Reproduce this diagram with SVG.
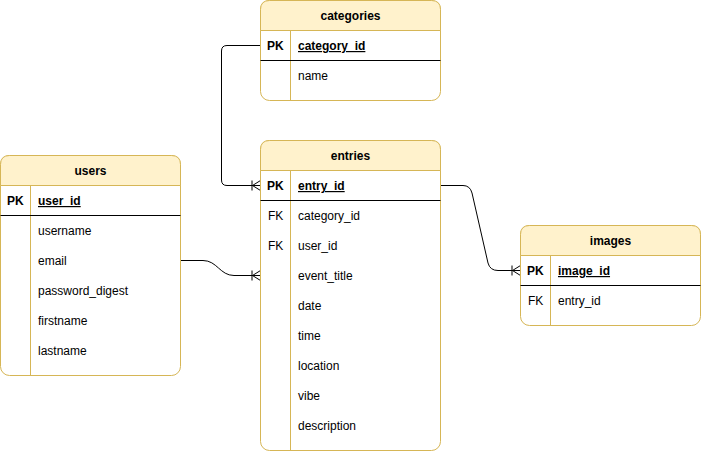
<svg xmlns="http://www.w3.org/2000/svg" width="702" height="452" viewBox="0 0 702 452">
<style>
.box{fill:#ffffff;stroke:#d6b656;stroke-width:1}
.hdr{fill:#fff2cc;stroke:#d6b656;stroke-width:1}
.div{stroke:#d6b656;stroke-width:1;fill:none}
.sep{stroke:#000000;stroke-width:1;fill:none}
text{font-family:"Liberation Sans",Arial,Helvetica,sans-serif;font-size:12px;fill:#000000}
.t{font-weight:bold;text-anchor:middle}
.pk{font-weight:bold}
.key{font-weight:bold;text-decoration:underline}
.conn{fill:none;stroke:#000000;stroke-width:1}
</style>
<defs>
<marker id="many" markerUnits="userSpaceOnUse" markerWidth="12" markerHeight="14" refX="10" refY="7" orient="auto" overflow="visible">
<path d="M2,7 L10,2 M2,7 L10,12 M1.5,2 L1.5,12 M0,7 L10,7" fill="none" stroke="#000" stroke-width="1"/>
</marker>
</defs>
<g id="connectors">
<path class="conn" d="M260.5,45.5 H227 Q221.5,45.5 221.5,51 V180 Q221.5,185.5 227,185.5 H260.5" marker-end="url(#many)"/>
<path class="conn" d="M180.5,260.5 H203 C217,260.5 220,275.5 234,275.5 H260.5" marker-end="url(#many)"/>
<path class="conn" d="M440.5,185.5 H463 Q470,185.5 472,193 L488,263 Q490,270.5 498,270.5 H520.5" marker-end="url(#many)"/>
</g>
<g id="categories">
<rect class="box" x="260.5" y="0.5" width="180" height="100" rx="9"/>
<path class="hdr" d="M260.5,30.5 V9.5 Q260.5,0.5 269.5,0.5 H431.5 Q440.5,0.5 440.5,9.5 V30.5 Z"/>
<line class="div" x1="290.5" y1="30.5" x2="290.5" y2="100.5"/>
<line class="sep" x1="260.5" y1="60.5" x2="440.5" y2="60.5"/>
<text class="t" x="350.5" y="20">categories</text>
<text class="pk" x="267" y="50">PK</text>
<text class="key" x="298" y="50">category_id</text>
<text x="298" y="80">name</text>
</g>
<g id="entries">
<rect class="box" x="260.5" y="140.5" width="180" height="310" rx="9"/>
<path class="hdr" d="M260.5,170.5 V149.5 Q260.5,140.5 269.5,140.5 H431.5 Q440.5,140.5 440.5,149.5 V170.5 Z"/>
<line class="div" x1="290.5" y1="170.5" x2="290.5" y2="450.5"/>
<line class="sep" x1="260.5" y1="200.5" x2="440.5" y2="200.5"/>
<text class="t" x="350.5" y="160">entries</text>
<text class="pk" x="267" y="190">PK</text>
<text class="key" x="298" y="190">entry_id</text>
<text x="268" y="220">FK</text>
<text x="298" y="220">category_id</text>
<text x="268" y="250">FK</text>
<text x="298" y="250">user_id</text>
<text x="298" y="280">event_title</text>
<text x="298" y="310">date</text>
<text x="298" y="340">time</text>
<text x="298" y="370">location</text>
<text x="298" y="400">vibe</text>
<text x="298" y="430">description</text>
</g>
<g id="users">
<rect class="box" x="0.5" y="155.5" width="180" height="220" rx="9"/>
<path class="hdr" d="M0.5,185.5 V164.5 Q0.5,155.5 9.5,155.5 H171.5 Q180.5,155.5 180.5,164.5 V185.5 Z"/>
<line class="div" x1="30.5" y1="185.5" x2="30.5" y2="375.5"/>
<line class="sep" x1="0.5" y1="215.5" x2="180.5" y2="215.5"/>
<text class="t" x="90.5" y="175">users</text>
<text class="pk" x="7" y="205">PK</text>
<text class="key" x="38" y="205">user_id</text>
<text x="38" y="235">username</text>
<text x="38" y="265">email</text>
<text x="38" y="295">password_digest</text>
<text x="38" y="325">firstname</text>
<text x="38" y="355">lastname</text>
</g>
<g id="images">
<rect class="box" x="520.5" y="225.5" width="180" height="100" rx="9"/>
<path class="hdr" d="M520.5,255.5 V234.5 Q520.5,225.5 529.5,225.5 H691.5 Q700.5,225.5 700.5,234.5 V255.5 Z"/>
<line class="div" x1="550.5" y1="255.5" x2="550.5" y2="325.5"/>
<line class="sep" x1="520.5" y1="285.5" x2="700.5" y2="285.5"/>
<text class="t" x="610.5" y="245">images</text>
<text class="pk" x="527" y="275">PK</text>
<text class="key" x="558" y="275">image_id</text>
<text x="528" y="305">FK</text>
<text x="558" y="305">entry_id</text>
</g>
</svg>
